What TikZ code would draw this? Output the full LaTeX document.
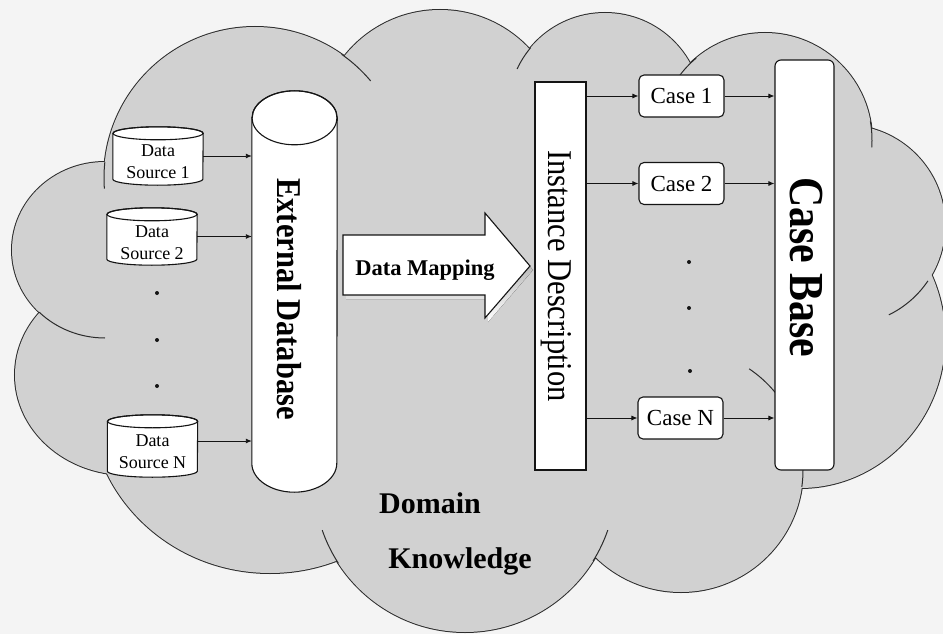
\documentclass[tikz,border=0pt]{standalone}
\usepackage{fontspec}
\usepackage{graphicx}
\setmainfont{Liberation Serif}
\usetikzlibrary{arrows.meta,calc}

\definecolor{paper}{gray}{0.955}
\definecolor{cloudgray}{gray}{0.82}
\definecolor{ink}{gray}{0.08}
\definecolor{shade}{gray}{0.66}

% drum outline for a data source, built on an empty node of the drum's size
\newcommand\dsdrum[1]{%
  \path[drum] ($(#1.north west)+(0,6.5)$) -- ($(#1.south west)+(0,-6)$)
    arc[start angle=180,end angle=0,x radius=45,y radius=6]
    -- ($(#1.north east)+(0,6.5)$)
    arc[start angle=0,end angle=-180,x radius=45,y radius=6.5] -- cycle;
  \draw[drumline] ($(#1.north)+(0,6.5)$) ellipse[x radius=45,y radius=6.5];}

\begin{document}
\begin{tikzpicture}[x=1pt,y=-1pt,
  cloudline/.style={draw=ink!90, line width=1pt},
  drum/.style={fill=white, draw=ink, line width=1.1pt},
  drumline/.style={draw=ink, line width=1.1pt},
  slot/.style={inner sep=0pt, minimum width=90pt},
  dstext/.style={inner sep=0pt, align=center, font=\fontsize{18}{22}\selectfont},
  plainbox/.style={draw=ink, fill=white, line width=1.1pt, inner sep=0pt},
  casebox/.style={plainbox, rounded corners=5pt, minimum width=85pt,
    minimum height=42pt, font=\fontsize{23}{26}\selectfont},
  conn/.style={draw=ink, line width=0.9pt, -{Latex[length=6pt,width=5pt]}},
  bigbold/.style={font=\fontsize{30}{34}\selectfont\bfseries, inner sep=0pt},
  dot/.style={fill=ink}
]
\useasboundingbox (0,0) rectangle (943,634);
\clip (0,0) rectangle (943,634);
\fill[paper] (0,0) rectangle (943,634);

% ---- cloud: lobes stroked, then filled, so only the outer rim stays
\def\lobes{255/178/151/151, 440/132/122/122, 605/110/97/97, 765/140/107/107,
  845/225/100/100, 800/338/145/150, 681/470/122/122, 465/481/151/151,
  270/400/180/173, 127/375/112/100, 105/250/93/88}
\foreach \cx/\cy/\rx/\ry in \lobes
  \draw[draw=ink!90, line width=2pt] (\cx,\cy) ellipse[x radius=\rx, y radius=\ry];
\foreach \cx/\cy/\rx/\ry in \lobes
  \fill[cloudgray] (\cx,\cy) ellipse[x radius=\rx, y radius=\ry];
\fill[cloudgray] (255,178) -- (440,132) -- (605,110) -- (765,140) -- (845,225)
  -- (800,338) -- (681,470) -- (465,481) -- (270,400) -- (127,375) -- (105,250) -- cycle;
% short inner arcs where lobes overlap
\foreach \cx/\cy/\rx/\ry/\a/\b in {255/178/151/151/186/176, 105/250/93/88/135/90,
  255/178/151/151/305/320, 605/110/97/97/205/220, 765/140/107/107/216/230,
  765/140/107/107/350/364, 845/225/100/100/34/64, 681/470/122/122/304/368,
  465/481/151/151/161/147, 465/481/151/151/19/32}
  \draw[cloudline] ($(\cx,\cy)+({\a}:{\rx} and {\ry})$)
    arc[start angle=\a, end angle=\b, x radius=\rx, y radius=\ry];

% ---- data sources
\node[slot, minimum height=58pt] (ds1) at (158,156) {};
\dsdrum{ds1}
\node[dstext] (ds1t) at ($(ds1)+(0,6)$) {Data\\Source 1};
\node[slot, minimum height=57pt] (ds2) at (152,236.5) {};
\dsdrum{ds2}
\node[dstext] (ds2t) at ($(ds2)+(0,6.5)$) {Data\\Source 2};
\node[slot, minimum height=62pt] (dsn) at (152.5,446) {};
\dsdrum{dsn}
\node[dstext] (dsnt) at ($(dsn)+(0,5.5)$) {Data\\Source N};

\fill[dot] (157,293) circle[radius=2];
\fill[dot] (157,340) circle[radius=2];
\fill[dot] (157,386) circle[radius=2];

% ---- external database
\node[inner sep=0pt, minimum width=85pt, minimum height=401pt] (extdb) at (294.5,291.5) {};
\path[drum] ($(extdb.north west)+(0,27)$) -- ($(extdb.south west)+(0,-29)$)
  arc[start angle=180,end angle=0,x radius=42.5,y radius=29]
  -- ($(extdb.north east)+(0,27)$)
  arc[start angle=0,end angle=-180,x radius=42.5,y radius=27] -- cycle;
\draw[drumline] ($(extdb.north)+(0,27)$) ellipse[x radius=42.5,y radius=27];
\node[rotate=-90, anchor=base, inner sep=0pt, font=\fontsize{30.5}{36}\selectfont\bfseries]
  (extdbl) at (277,299) {\scalebox{1}[1.14]{External Database}};

\draw[conn] (ds1.east) -- (ds1.east -| extdb.west);
\draw[conn] (ds2.east) -- (ds2.east -| extdb.west);
\draw[conn] ([yshift=5pt]dsn.east) -- ([yshift=5pt]dsn.east -| extdb.west);

% ---- data mapping arrow
\fill[shade, shift={(3,4)}] (343,235) -- (485,235) -- (485,213) -- (530,266)
  -- (485,318) -- (485,295) -- (343,295) -- cycle;
\draw[plainbox] (343,235) -- (485,235) -- (485,213) -- (530,266)
  -- (485,318) -- (485,295) -- (343,295) -- cycle;
\node[anchor=base, inner sep=0pt, font=\fontsize{22.5}{26}\selectfont\bfseries]
  (dmap) at (425,275) {Data Mapping};

% ---- instance description
\node[plainbox, minimum width=51pt, minimum height=388pt] (idesc) at (560.5,276) {};
\node[rotate=-90, anchor=base, inner sep=0pt, font=\fontsize{30.5}{36}\selectfont]
  (idescl) at (548,276) {\scalebox{1}[1.14]{Instance Description}};

% ---- cases and case base
\node[plainbox, rounded corners=6pt, minimum width=59pt, minimum height=410pt] (cbase) at (804.5,265) {};
\node[rotate=-90, anchor=base, inner sep=0pt, font=\fontsize{41.8}{48}\selectfont\bfseries]
  (cbasel) at (790,267) {\scalebox{1}[1.17]{Case Base}};

\node[casebox] (case1) at (681.5,96) {Case 1};
\node[casebox] (case2) at (681.5,183.5) {Case 2};
\node[casebox] (casen) at (680.5,418) {Case N};

\foreach \c in {case1,case2,casen}{
  \draw[conn] (\c.west -| idesc.east) -- (\c.west);
  \draw[conn] (\c.east) -- (\c.east -| cbase.west);
}

\fill[dot] (689,262) circle[radius=2];
\fill[dot] (689,308) circle[radius=2];
\fill[dot] (690,371) circle[radius=2];

% ---- cloud caption
\node[bigbold, anchor=base] (dom) at (430,513) {Domain};
\node[bigbold, anchor=base] (know) at (460,568) {Knowledge};
\end{tikzpicture}
\end{document}
